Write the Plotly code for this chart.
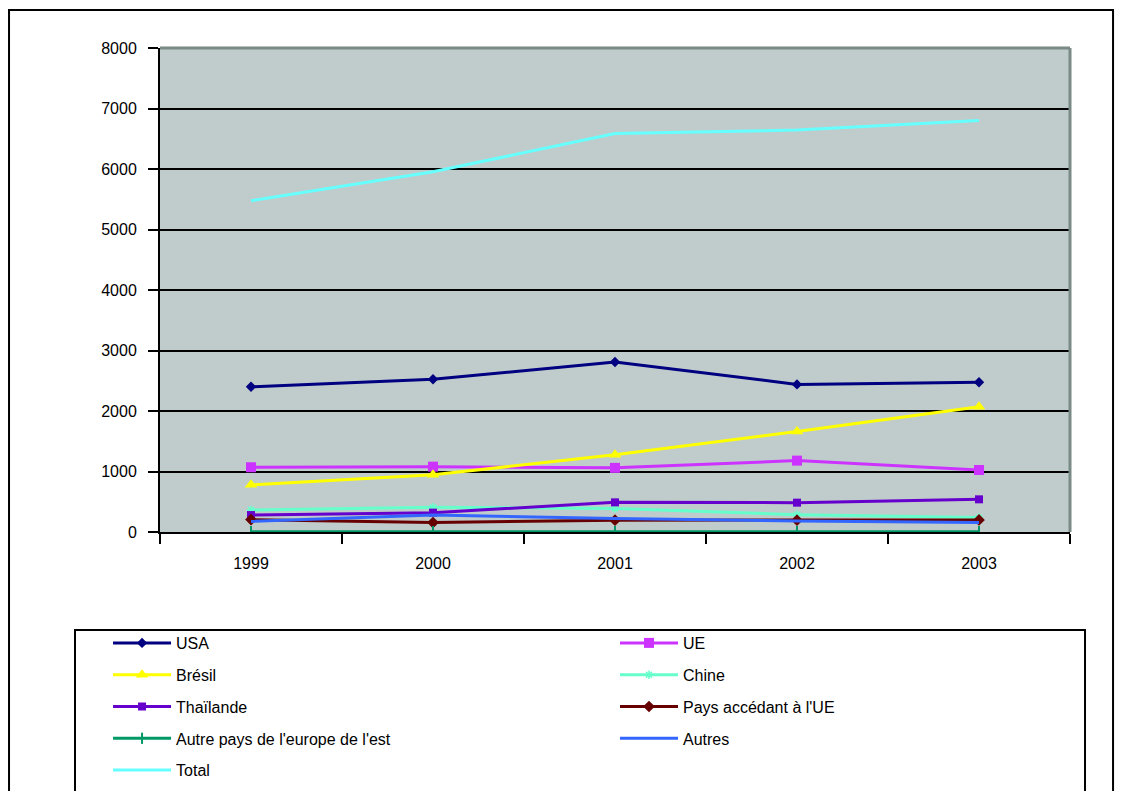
import plotly.graph_objects as go

years = ["1999", "2000", "2001", "2002", "2003"]

usa = [2400, 2525, 2810, 2440, 2475]
ue = [1070, 1080, 1060, 1180, 1025]
bresil = [780, 945, 1275, 1660, 2070]
chine = [365, 410, 390, 285, 240]
thailande = [280, 320, 490, 485, 540]
pays_accedant = [205, 155, 195, 195, 200]
autre_est = [5, 5, 5, 5, 5]
autres = [175, 280, 225, 180, 155]
total = [5475, 5955, 6585, 6645, 6800]

# (name, values, colour, marker, legend column)
series = [
    ("USA", usa, "#000080", dict(symbol="diamond", size=8), "legend"),
    ("UE", ue, "#cc33ff", dict(symbol="square", size=10), "legend2"),
    ("Brésil", bresil, "#ffff00", dict(symbol="triangle-up", size=11), "legend"),
    ("Chine", chine, "#66ffcc", dict(symbol="asterisk-open", size=7, line=dict(width=1.5, color="#66ffcc")), "legend2"),
    ("Thaïlande", thailande, "#6600cc", dict(symbol="square", size=8), "legend"),
    ("Pays accédant à l'UE", pays_accedant, "#660000", dict(symbol="diamond", size=9), "legend2"),
    ("Autre pays de l'europe de l'est", autre_est, "#009966", dict(symbol="line-ns-open", size=8, line=dict(width=2, color="#009966")), "legend"),
    ("Autres", autres, "#3366ff", None, "legend2"),
    ("Total", total, "#66ffff", None, "legend"),
]

fig = go.Figure()
for name, vals, color, marker, leg in series:
    fig.add_trace(go.Scatter(
        x=years, y=vals, name=name, legend=leg, legendgroup=name,
        mode="lines+markers" if marker else "lines",
        line=dict(color=color, width=3),
        marker=dict(color=color, **marker) if marker else None,
    ))

leg_common = dict(
    orientation="v", yanchor="top", xanchor="left",
    bgcolor="rgba(0,0,0,0)", borderwidth=0,
    itemwidth=58, tracegroupgap=8,
    font=dict(size=16), traceorder="grouped",
)

fig.update_layout(
    width=1124, height=791,
    paper_bgcolor="white",
    plot_bgcolor="#c0cccb",
    font=dict(family="Liberation Sans, Arial, sans-serif", size=16, color="black"),
    margin=dict(l=152, r=62, t=40, b=267),
    showlegend=True,
    legend=dict(x=-0.0571, y=-0.1942, **leg_common),
    legend2=dict(x=0.5, y=-0.1942, **leg_common),
    shapes=[
        # outer chart frame
        dict(type="rect", xref="paper", yref="paper", x0=-0.1659, x1=1.0473, y0=-0.7, y1=1.0785,
             line=dict(color="black", width=2), fillcolor="rgba(0,0,0,0)", layer="below"),
        # legend box
        dict(type="rect", xref="paper", yref="paper", x0=-0.0934, x1=1.0165, y0=-0.7, y1=-0.2025,
             line=dict(color="black", width=2), fillcolor="white", layer="below"),
        # grey top/right border of the plot area
        dict(type="line", xref="paper", yref="paper", x0=0, x1=1, y0=1, y1=1,
             line=dict(color="#7a8a86", width=3)),
        dict(type="line", xref="paper", yref="paper", x0=1, x1=1, y0=0, y1=1,
             line=dict(color="#7a8a86", width=3)),
    ],
)

fig.update_xaxes(
    type="category", range=[-0.5, 4.5],
    showgrid=False, showline=True, linecolor="black", linewidth=2,
    ticks="outside", tickson="boundaries", ticklen=10, tickwidth=2, tickcolor="black",
    ticklabelstandoff=16,
)
fig.update_yaxes(
    range=[0, 8000], dtick=1000,
    showgrid=True, gridcolor="black", gridwidth=2,
    zeroline=False,
    showline=True, linecolor="black", linewidth=2,
    ticks="outside", ticklen=10, tickwidth=2, tickcolor="black",
    ticklabelstandoff=8,
)

fig.write_html("out.html")
